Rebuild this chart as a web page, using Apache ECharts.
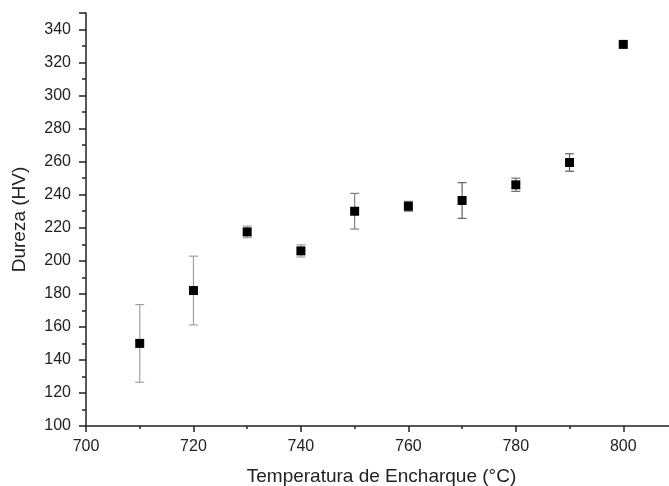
<!DOCTYPE html>
<html>
<head>
<meta charset="utf-8">
<script src="https://cdn.jsdelivr.net/npm/echarts@6/dist/echarts.min.js"></script>
<style>
html,body{margin:0;padding:0;background:#fff;}
#chart{width:669px;height:486px;}
</style>
</head>
<body>
<div id="chart"></div>
<script>
// temperatura de encharque (ºC) e dureza (HV) com desvio
var temperaturas=[710,720,730,740,750,760,770,780,790,800];
var durezas=[150,182,217.5,206,230,233,236.5,246,259.5,331];
var desvios=[23.5,20.8,3.5,3.7,10.8,3,10.8,4,5.3,0];
var corBarra=['#a0a0a0','#a0a0a0','#a0a0a0','#a0a0a0','#808080','#808080','#606060','#707070','#606060','#606060'];

var pontos=[],barras=[];
for(var i=0;i<temperaturas.length;i++){
	pontos.push([temperaturas[i],durezas[i]]);
	barras.push([temperaturas[i],durezas[i]-desvios[i],durezas[i]+desvios[i],i]);
}

var fonte='"Liberation Sans", Arial, sans-serif';
var chart=echarts.init(document.getElementById('chart'));
var option={
	animation:false,
	grid:{left:86,top:13,height:413,width:591,outerBoundsMode:'none',containLabel:false},
	xAxis:{
		type:'value',
		min:700,
		max:810,
		interval:20,
		name:'Temperatura de Encharque (°C)',
		nameLocation:'middle',
		nameGap:41,
		nameTextStyle:{fontFamily:fonte,fontSize:19,color:'#222'},
		axisLine:{show:true,onZero:false,lineStyle:{color:'#222',width:1.5}},
		axisTick:{show:true,inside:false,length:6,lineStyle:{color:'#222',width:1.5}},
		minorTick:{show:true,splitNumber:2,length:3,lineStyle:{color:'#222',width:1.5}},
		axisLabel:{fontFamily:fonte,fontSize:16,color:'#222',margin:13,
			formatter:function(v){return v>800?'':v;}},
		splitLine:{show:false}
	},
	yAxis:{
		type:'value',
		min:100,
		max:350,
		interval:20,
		name:'Dureza (HV)',
		nameLocation:'middle',
		nameGap:57,
		nameTextStyle:{fontFamily:fonte,fontSize:19,color:'#222'},
		axisLine:{show:true,onZero:false,lineStyle:{color:'#222',width:1.5}},
		axisTick:{show:true,inside:false,length:7,lineStyle:{color:'#222',width:1.5}},
		minorTick:{show:true,splitNumber:2,length:4,lineStyle:{color:'#222',width:1.5}},
		axisLabel:{fontFamily:fonte,fontSize:16,color:'#222',margin:15,
			formatter:function(v){return v>340?'':v;}},
		splitLine:{show:false}
	},
	series:[{
		type:'custom',
		data:barras,
		z:1,
		renderItem:function(params,api){
			var x=api.value(0);
			var baixo=api.coord([x,api.value(1)]);
			var alto=api.coord([x,api.value(2)]);
			var cor=corBarra[api.value(3)];
			var w=4.5;
			var estilo={stroke:cor,lineWidth:1.2};
			return {type:'group',children:[
				{type:'line',shape:{x1:alto[0],y1:alto[1],x2:baixo[0],y2:baixo[1]},style:estilo},
				{type:'line',shape:{x1:alto[0]-w,y1:alto[1],x2:alto[0]+w,y2:alto[1]},style:estilo},
				{type:'line',shape:{x1:baixo[0]-w,y1:baixo[1],x2:baixo[0]+w,y2:baixo[1]},style:estilo}
			]};
		}
	},{
		type:'scatter',
		data:pontos,
		z:5,
		symbol:'rect',
		symbolSize:9,
		itemStyle:{color:'#000',opacity:1}
	}]
};
chart.setOption(option);
window.addEventListener('resize',function(){
	chart.resize();
});
</script>
</body>
</html>
